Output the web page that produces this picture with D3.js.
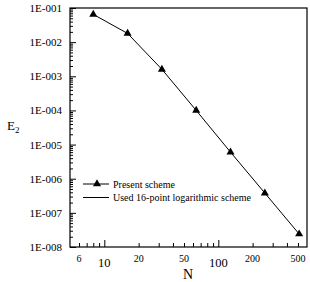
<!DOCTYPE html>
<html>
<head>
<meta charset="utf-8">
<script src="https://cdn.jsdelivr.net/npm/d3@7"></script>
<style>
  body { margin: 0; background: #fff; }
  svg text { font-family: "Liberation Serif", "Times New Roman", serif; fill: #000; }
  .axis path, .axis line { stroke: #000; }
</style>
</head>
<body>
<div id="figure-container"></div>
<script>
// N values and E2 errors
var nValues = [8, 16, 32, 64, 128, 256, 512];
var presentScheme = [0.065, 0.018, 1.6e-3, 1.0e-4, 6.0e-6, 3.8e-7, 2.4e-8];
var used16Point = [0.065, 0.018, 1.6e-3, 1.0e-4, 6.0e-6, 3.8e-7, 2.4e-8];

var yTicks = [1e-1, 1e-2, 1e-3, 1e-4, 1e-5, 1e-6, 1e-7, 1e-8];
var xSmallLabels = [6, 20, 50, 200, 500];
var xBigLabels = [10, 100];
var legendNames = ['Present scheme', 'Used 16-point logarithmic scheme'];

var serif = '"Liberation Serif", "Times New Roman", serif';

var margin = {top: 8, right: 3, bottom: 35, left: 70};
var fullWidth = 310, fullHeight = 282;
var width = fullWidth - margin.left - margin.right;
var height = fullHeight - margin.top - margin.bottom;

var xScale = d3.scaleLog().domain([5, 600]).range([0, width]);
var yScale = d3.scaleLog().domain([1e-8, 1e-1]).range([height, 0]);

var root = d3.select('#figure-container')
  .append('svg')
  .attr('width', fullWidth)
  .attr('height', fullHeight)
  .style('font-family', serif);

var svg = root.append('g')
  .attr('transform', `translate(${margin.left},${margin.top})`);

// minor ticks
var yMinor = [];
yTicks.forEach(function(t) {
  for (var k = 2; k <= 9; k++) if (t * k < 1e-1) yMinor.push(t * k);
});
var xMinor = [6, 7, 8, 9, 20, 30, 40, 50, 60, 70, 80, 90, 200, 300, 400, 500];

svg.append('g')
  .attr('class', 'axis')
  .call(d3.axisLeft(yScale).tickValues(yMinor).tickSize(-3).tickFormat(''))
  .select('.domain').remove();

svg.append('g')
  .attr('class', 'axis y')
  .call(d3.axisLeft(yScale).tickValues(yTicks).tickSize(-6).tickPadding(8)
    .tickFormat(function(d) { return '1E-' + String(Math.round(-Math.log10(d))).padStart(3, '0'); }))
  .call(function(g) { g.select('.domain').remove(); })
  .selectAll('text')
  .style('font-family', serif)
  .attr('font-size', 11);

svg.append('g')
  .attr('class', 'axis')
  .attr('transform', `translate(0,${height})`)
  .call(d3.axisBottom(xScale).tickValues(xMinor).tickSize(-4).tickFormat(''))
  .select('.domain').remove();

svg.append('g')
  .attr('class', 'axis')
  .attr('transform', `translate(0,${height})`)
  .call(d3.axisBottom(xScale).tickValues(xBigLabels).tickSize(-7).tickFormat(''))
  .select('.domain').remove();

// x labels
svg.selectAll('.xsmall')
  .data(xSmallLabels)
  .enter().append('text')
  .attr('x', function(d) { return xScale(d); })
  .attr('y', height + 15)
  .attr('text-anchor', 'middle')
  .attr('font-size', 10)
  .text(function(d) { return d; });

svg.selectAll('.xbig')
  .data(xBigLabels)
  .enter().append('text')
  .attr('x', function(d) { return xScale(d); })
  .attr('y', height + 20)
  .attr('text-anchor', 'middle')
  .attr('font-size', 12.5)
  .text(function(d) { return d; });

// frame
svg.append('rect')
  .attr('width', width)
  .attr('height', height)
  .attr('fill', 'none')
  .attr('stroke', '#000')
  .attr('stroke-width', 1.2);

var line = d3.line()
  .x(function(d, i) { return xScale(nValues[i]); })
  .y(function(d) { return yScale(d); });

svg.append('path')
  .datum(used16Point)
  .attr('d', line)
  .attr('fill', 'none')
  .attr('stroke', '#000')
  .attr('stroke-width', 1);

var tri = d3.symbol().type(d3.symbolTriangle).size(28);

svg.selectAll('.marker')
  .data(presentScheme)
  .enter().append('path')
  .attr('d', tri)
  .attr('transform', function(d, i) { return `translate(${xScale(nValues[i])},${yScale(d)})`; })
  .attr('fill', '#000');

// legend
var lg = svg.append('g').attr('transform', 'translate(13,176)');
legendNames.forEach(function(name, i) {
  var y = i * 13.5;
  lg.append('line').attr('x1', 0).attr('x2', 26).attr('y1', y).attr('y2', y)
    .attr('stroke', '#000').attr('stroke-width', 1);
  if (i === 0) {
    lg.append('path').attr('d', tri).attr('transform', `translate(14,${y})`).attr('fill', '#000');
  }
  lg.append('text').attr('x', 30).attr('y', y + 3.5).attr('font-size', 10).text(name);
});

// axis titles
var et = root.append('text')
  .attr('x', 7).attr('y', 130)
  .attr('font-size', 13);
et.append('tspan').text('E');
et.append('tspan').attr('font-size', 9).attr('dy', 3).text('2');

root.append('text')
  .attr('x', 188)
  .attr('y', 279)
  .attr('text-anchor', 'middle')
  .attr('font-size', 14)
  .text('N');
</script>
</body>
</html>
